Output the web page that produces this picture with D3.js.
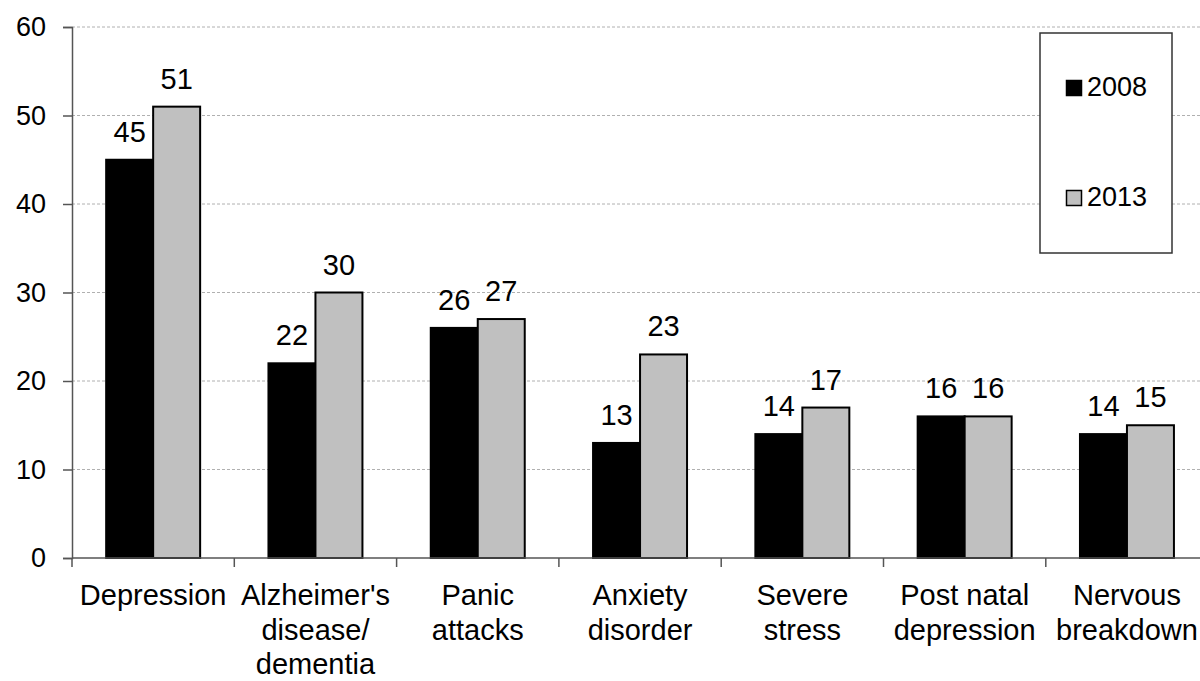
<!DOCTYPE html>
<html>
<head>
<meta charset="utf-8">
<script src="https://cdn.jsdelivr.net/npm/d3@7"></script>
<style>
  html, body { margin: 0; padding: 0; background: #fff; }
  svg { display: block; font-family: "Liberation Sans", Arial, sans-serif; }
</style>
</head>
<body>
<svg id="chart" width="1200" height="681"></svg>
<script>
// Conditions (each label split into lines)
const categories = [
  ["Depression"],
  ["Alzheimer's", "disease/", "dementia"],
  ["Panic", "attacks"],
  ["Anxiety", "disorder"],
  ["Severe", "stress"],
  ["Post natal", "depression"],
  ["Nervous", "breakdown"]
];
const seriesNames = ["2008", "2013"];
const values2008 = [45, 22, 26, 13, 14, 16, 14];
const values2013 = [51, 30, 27, 23, 17, 16, 15];
const yTicks = [0, 10, 20, 30, 40, 50, 60];

const colors = { "2008": "#000000", "2013": "#c0c0c0" };

const svg = d3.select("#chart");
const plotLeft = 72, plotTop = 27, plotBottom = 558, bandW = 162.3;
const plotRight = plotLeft + bandW * categories.length;

const keys = categories.map((c, i) => i);
const x = d3.scaleBand().domain(keys).range([plotLeft, plotRight]).paddingInner(0).paddingOuter(0);
const x1 = d3.scaleBand().domain(seriesNames).range([0, x.bandwidth()]).paddingInner(0).paddingOuter(0.727);
const y = d3.scaleLinear().domain([0, 60]).range([plotBottom, plotTop]);

// horizontal dashed gridlines
svg.append("g")
  .selectAll("line")
  .data(yTicks.filter(t => t > 0))
  .join("line")
  .attr("x1", plotLeft).attr("x2", 1200)
  .attr("y1", d => y(d)).attr("y2", d => y(d))
  .attr("stroke", "#b0b0b0").attr("stroke-width", 1)
  .attr("stroke-dasharray", "3,2");

// bars
const rows = keys.map(i => ({ i, vals: [
  { key: "2008", v: values2008[i] },
  { key: "2013", v: values2013[i] }
]}));

const groups = svg.append("g").selectAll("g")
  .data(rows).join("g")
  .attr("transform", d => `translate(${x(d.i)},0)`);

groups.selectAll("rect")
  .data(d => d.vals).join("rect")
  .attr("x", d => x1(d.key))
  .attr("width", x1.bandwidth())
  .attr("y", d => y(d.v))
  .attr("height", d => y(0) - y(d.v))
  .attr("fill", d => colors[d.key])
  .attr("stroke", "#000").attr("stroke-width", 2);

groups.selectAll("text.val")
  .data(d => d.vals).join("text")
  .attr("class", "val")
  .attr("x", d => x1(d.key) + x1.bandwidth() / 2)
  .attr("y", d => y(d.v) - 18)
  .attr("text-anchor", "middle")
  .attr("font-size", 29)
  .attr("fill", "#000")
  .text(d => d.v);

// y axis
const yAxis = svg.append("g")
  .attr("transform", `translate(${plotLeft},0)`)
  .call(d3.axisLeft(y).tickValues(yTicks).tickSize(9).tickPadding(17));
yAxis.select(".domain").attr("stroke", "#555").attr("stroke-width", 1.5);
yAxis.selectAll(".tick line").attr("stroke", "#555").attr("stroke-width", 1.5);
yAxis.selectAll(".tick text")
  .attr("font-size", 27).attr("fill", "#000")
  .attr("font-family", "Liberation Sans, Arial, sans-serif");

// x axis with ticks at category boundaries
const xAxisG = svg.append("g");
xAxisG.append("line")
  .attr("x1", plotLeft).attr("x2", 1200)
  .attr("y1", y(0)).attr("y2", y(0))
  .attr("stroke", "#555").attr("stroke-width", 1.5);
xAxisG.selectAll("line.tk")
  .data(keys).join("line")
  .attr("class", "tk")
  .attr("x1", d => x(d)).attr("x2", d => x(d))
  .attr("y1", y(0)).attr("y2", y(0) + 9)
  .attr("stroke", "#555").attr("stroke-width", 1.5);

const labels = xAxisG.selectAll("text.cat")
  .data(keys).join("text")
  .attr("class", "cat")
  .attr("text-anchor", "middle")
  .attr("font-size", 29)
  .attr("fill", "#000")
  .attr("transform", d => `translate(${x(d) + x.bandwidth() / 2},605)`);
labels.selectAll("tspan")
  .data(d => categories[d]).join("tspan")
  .attr("x", 0)
  .attr("y", (d, j) => j * 34.5)
  .text(d => d);

// legend
const lg = svg.append("g");
lg.append("rect")
  .attr("x", 1040).attr("y", 33).attr("width", 132).attr("height", 220)
  .attr("fill", "#fff").attr("stroke", "#333").attr("stroke-width", 1.5);
const lgY = [96, 206];
const items = lg.selectAll("g.item").data(seriesNames).join("g")
  .attr("class", "item")
  .attr("transform", (d, i) => `translate(1066,${lgY[i]})`);
items.append("rect")
  .attr("x", 0.5).attr("y", -15.5).attr("width", 15).attr("height", 15)
  .attr("fill", d => colors[d]).attr("stroke", "#000").attr("stroke-width", 1.5);
items.append("text")
  .attr("x", 21).attr("y", 0)
  .attr("font-size", 27).attr("fill", "#000")
  .text(d => d);
</script>
</body>
</html>
